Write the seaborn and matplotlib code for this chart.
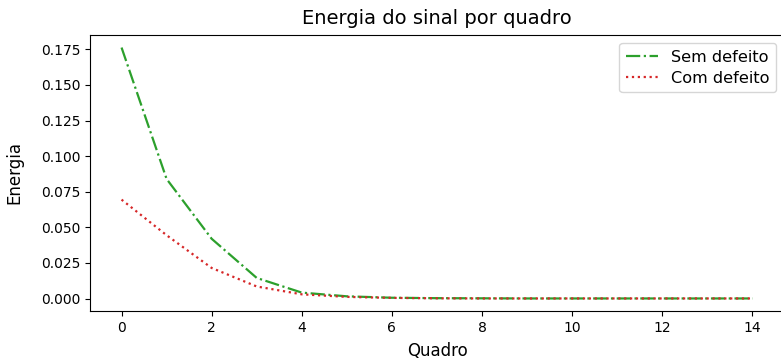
import matplotlib
matplotlib.use("Agg")
import matplotlib.pyplot as plt
import seaborn as sns
import pandas as pd

quadros = list(range(15))
sem_defeito = [0.1763, 0.084, 0.042, 0.0145, 0.0042, 0.0016, 0.0006, 0.0003, 0.0002, 0.0001, 0.0001, 0.0001, 0.0001, 0.0001, 0.0001]
com_defeito = [0.0695, 0.0445, 0.0215, 0.0085, 0.0030, 0.0012, 0.0005, 0.0002, 0.0001, 0.0001, 0.0001, 0.0001, 0.0001, 0.0001, 0.0001]

plt.rcParams['font.family'] = ['DejaVu Sans']
fig = plt.figure(figsize=(7.81, 3.6), dpi=100)
ax = fig.add_axes([90/781, 49/360, 694/781, 276/360])

df1 = pd.DataFrame({"Quadro": quadros, "Energia": sem_defeito})
df2 = pd.DataFrame({"Quadro": quadros, "Energia": com_defeito})
sns.lineplot(data=df1, x="Quadro", y="Energia", ax=ax, color="#2ca02c", linestyle="-.", linewidth=1.6, label="Sem defeito")
sns.lineplot(data=df2, x="Quadro", y="Energia", ax=ax, color="#d62728", linestyle=":", linewidth=1.6, label="Com defeito")

ax.set_title("Energia do sinal por quadro", fontsize=14, pad=8)
ax.set_xlabel("Quadro", fontsize=12, labelpad=5.5)
ax.set_ylabel("Energia", fontsize=12, labelpad=12.5)
ax.set_xticks([0, 2, 4, 6, 8, 10, 12, 14])
ax.tick_params(labelsize=10)
ax.legend(loc="upper right", fontsize=11.6, labelspacing=0.4)

fig.savefig("out.png", dpi=100)
